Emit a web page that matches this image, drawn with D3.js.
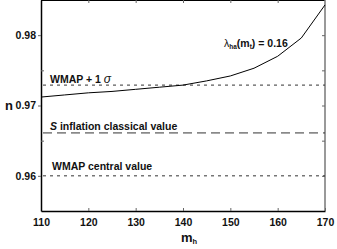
<!DOCTYPE html>
<html><head><meta charset="utf-8">
<script src="https://cdn.jsdelivr.net/npm/d3@7"></script>
<style>
body{margin:0;background:#fff;}
text{font-family:"Liberation Sans",Arial,sans-serif;font-weight:bold;}
</style></head>
<body><svg id="c" width="337" height="249"></svg>
<script>
const massH = [110,115,120,125,130,135,140,145,150,155,160,165,170];
const nValues = [0.9712,0.9715,0.9718,0.9720,0.9723,0.9726,0.9729,0.9735,0.9742,0.9753,0.9770,0.9796,0.9843];
const xTicks = [110,120,130,140,150,160,170];
const yTicks = [0.96,0.97,0.98];
const yMinorTicks = [0.965,0.975];
const refLines = [
  {label:"WMAP + 1 σ", value:0.9729, dash:"3,4"},
  {label:"S inflation classical value", value:0.9661, dash:"9,5"},
  {label:"WMAP central value", value:0.960, dash:"3,4"}
];

const svg = d3.select("#c");
const L=41,R=325,T=0,B=211;
const x = d3.scaleLinear().domain([110,170]).range([L,R]);
const y = d3.scaleLinear().domain([0.955,0.985]).range([B,T]);

// frame
svg.append("line").attr("x1",L).attr("x2",R).attr("y1",T+0.5).attr("y2",T+0.5).attr("stroke","#000").attr("stroke-width",1.2);
svg.append("line").attr("x1",R).attr("x2",R).attr("y1",T).attr("y2",B).attr("stroke","#777").attr("stroke-width",1.5);

// bottom axis
const gx = svg.append("g").attr("transform",`translate(0,${B})`)
  .call(d3.axisBottom(x).tickValues(xTicks).tickFormat(d3.format("d")).tickSizeInner(-3).tickSizeOuter(0).tickPadding(8));
gx.select(".domain").attr("stroke","#000").attr("stroke-width",1.5);
gx.selectAll("text").attr("font-size",10.5).attr("fill","#111").style("font-family","Liberation Sans, Arial").style("font-weight","bold");
gx.selectAll(".tick line").attr("stroke","#666");
// top ticks
svg.append("g").attr("transform",`translate(0,${T})`)
  .call(d3.axisTop(x).tickValues(xTicks.slice(1,-1)).tickFormat("").tickSizeInner(-3).tickSizeOuter(0))
  .call(g=>g.select(".domain").remove()).selectAll(".tick line").attr("stroke","#666");

// left axis
const gy = svg.append("g").attr("transform",`translate(${L},0)`)
  .call(d3.axisLeft(y).tickValues(yTicks).tickFormat(d3.format(".2f")).tickSizeInner(3).tickSizeOuter(0).tickPadding(2));
gy.select(".domain").attr("stroke","#000").attr("stroke-width",1.5);
gy.selectAll("text").attr("font-size",10.5).attr("fill","#111").style("font-family","Liberation Sans, Arial").style("font-weight","bold");
gy.selectAll(".tick line").attr("stroke","#666");
svg.append("g").attr("transform",`translate(${L},0)`)
  .call(d3.axisRight(y).tickValues(yMinorTicks).tickFormat("").tickSizeInner(3).tickSizeOuter(0))
  .call(g=>g.select(".domain").remove()).selectAll(".tick line").attr("stroke","#666");
// right ticks
svg.append("g").attr("transform",`translate(${R},0)`)
  .call(d3.axisLeft(y).tickValues(yTicks.concat(yMinorTicks)).tickFormat("").tickSizeInner(3).tickSizeOuter(0))
  .call(g=>g.select(".domain").remove()).selectAll(".tick line").attr("stroke","#666");

// reference lines
refLines.forEach(r=>{
  svg.append("line").attr("x1",L+2).attr("x2",R).attr("y1",y(r.value)).attr("y2",y(r.value))
    .attr("stroke","#333").attr("stroke-width",1).attr("stroke-dasharray",r.dash);
});

// curve
svg.append("path").datum(massH.map((m,i)=>[m,nValues[i]]))
  .attr("d",d3.line().x(d=>x(d[0])).y(d=>y(d[1])))
  .attr("fill","none").attr("stroke","#000").attr("stroke-width",1);

// labels
const t1 = svg.append("text").attr("x",50).attr("y",y(refLines[0].value)-2).attr("font-size",10.5).attr("fill","#111");
t1.append("tspan").text("WMAP + 1 ");
t1.append("tspan").text("σ").attr("font-style","italic").attr("font-weight","normal").attr("font-size",12);
const t2 = svg.append("text").attr("x",50).attr("y",y(refLines[1].value)-2.5).attr("font-size",10.5).attr("fill","#111");
t2.append("tspan").text("S").attr("font-style","italic");
t2.append("tspan").text(" inflation classical value");
svg.append("text").attr("x",52).attr("y",y(refLines[2].value)-6).attr("font-size",10.5).attr("fill","#111").text("WMAP central value");

const t3 = svg.append("text").attr("x",224).attr("y",47).attr("font-size",10.5).attr("fill","#111");
t3.append("tspan").text("λ").attr("font-weight","normal");
t3.append("tspan").text("ha").attr("font-size",6.5).attr("dy",2);
t3.append("tspan").text("(m").attr("dy",-2);
t3.append("tspan").text("t").attr("font-size",6.5).attr("dy",2);
t3.append("tspan").text(") = 0.16").attr("dy",-2);

svg.append("text").attr("x",5).attr("y",110).attr("font-size",13).attr("fill","#111").text("n");
const t4 = svg.append("text").attr("x",181).attr("y",242).attr("font-size",13).attr("fill","#111");
t4.append("tspan").text("m");
t4.append("tspan").text("h").attr("font-size",7.5).attr("dy",2);
</script></body></html>
